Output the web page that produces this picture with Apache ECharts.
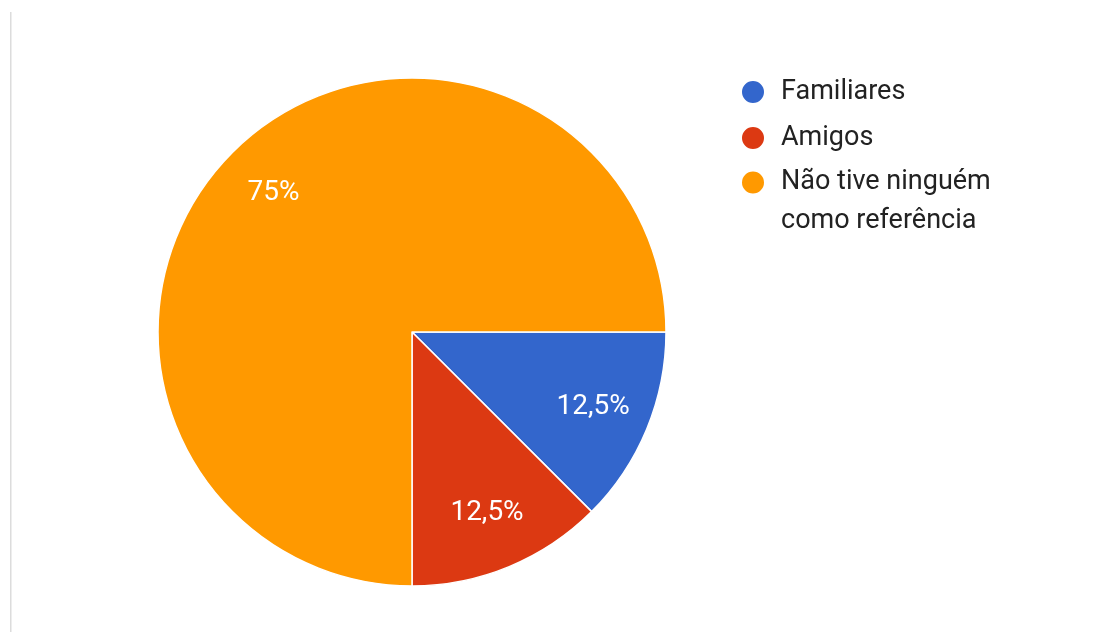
<!DOCTYPE html>
<html>
<head>
<meta charset="utf-8">
<script src="https://cdn.jsdelivr.net/npm/echarts@6/dist/echarts.min.js"></script>
<style>
html,body{margin:0;padding:0;background:#fff;}
#chart{width:1107px;height:632px;}
</style>
</head>
<body>
<div id="chart"></div>
<script>
const categories = ['Familiares', 'Amigos', 'Não tive ninguém como referência'];
const values = [12.5, 12.5, 75];
const labels = ['12,5%', '12,5%', '75%'];
const colors = ['#3366cc', '#dc3912', '#ff9900'];

const chart = echarts.init(document.getElementById('chart'));
const data = categories.map((c, i) => ({ name: c, value: values[i] }));
const fontFamily = 'Roboto, Arial, sans-serif';

chart.setOption({
  animation: false,
  color: colors,
  graphic: [{
    type: 'rect', shape: { x: 10, y: 12, width: 1.5, height: 640 },
    style: { fill: '#dcdcdc' }, silent: true
  }],
  legend: [{
    orient: 'vertical', left: 740, top: 77, padding: 0,
    icon: 'circle', itemWidth: 24, itemHeight: 24, itemGap: 16,
    data: categories.slice(0, 2),
    textStyle: { fontFamily, fontSize: 27, color: '#222', lineHeight: 30, padding: [0, 0, 0, 11] }
  }, {
    orient: 'vertical', left: 740, top: 124, padding: 0,
    icon: 'circle', itemWidth: 24, itemHeight: 24,
    data: categories.slice(2),
    formatter: n => '\n' + n.replace(' como', '\ncomo'),
    textStyle: { fontFamily, fontSize: 27, color: '#222', lineHeight: 39, padding: [0, 0, 0, 11] }
  }],
  series: [{
    type: 'pie',
    center: [412, 332],
    radius: [0, 254],
    startAngle: 0,
    clockwise: true,
    silent: true,
    label: { show: false },
    labelLine: { show: false },
    itemStyle: { borderColor: '#fff', borderWidth: 1.5 },
    data: data
  }, {
    type: 'pie',
    center: [412, 332],
    radius: [132, 254],
    startAngle: 0,
    clockwise: true,
    silent: true,
    legendHoverLink: false,
    itemStyle: { color: 'rgba(0,0,0,0)', borderWidth: 0 },
    label: {
      show: true, position: 'inside',
      formatter: p => labels[p.dataIndex],
      color: '#fff', fontFamily, fontSize: 28
    },
    labelLine: { show: false },
    data: data
  }]
});
</script>
</body>
</html>
